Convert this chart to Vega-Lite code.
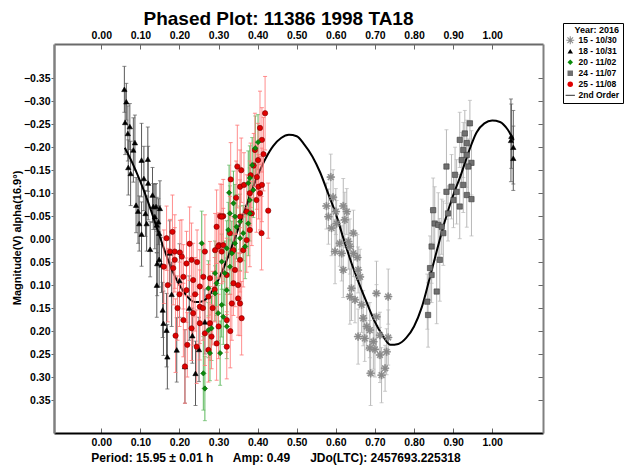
{
  "$schema": "https://vega.github.io/schema/vega-lite/v6.json",
  "width": 489,
  "height": 389,
  "autosize": {"type": "none"},
  "padding": {"left": 54, "top": 44, "right": 86, "bottom": 36},
  "background": "white",
  "config": {"font": "Liberation Sans", "view": {"stroke": null}},
  "title": {"text": "Phased Plot: 11386 1998 TA18", "font": "Liberation Sans", "fontSize": 19, "fontWeight": "bold", "color": "black", "anchor": "middle", "dx": -20, "offset": -6},
  "datasets": {
    "pts": [
      {"s":"15 - 10/30","p":0.587,"m":-0.135,"e":0.05},{"s":"15 - 10/30","p":0.593,"m":-0.091,"e":0.06},{"s":"15 - 10/30","p":0.576,"m":-0.072,"e":0.05},{"s":"15 - 10/30","p":0.581,"m":-0.049,"e":0.06},{"s":"15 - 10/30","p":0.619,"m":-0.072,"e":0.06},{"s":"15 - 10/30","p":0.628,"m":-0.060,"e":0.05},{"s":"15 - 10/30","p":0.589,"m":-0.024,"e":0.06},{"s":"15 - 10/30","p":0.602,"m":-0.034,"e":0.05},{"s":"15 - 10/30","p":0.632,"m":0.005,"e":0.06},{"s":"15 - 10/30","p":0.610,"m":0.009,"e":0.05},{"s":"15 - 10/30","p":0.636,"m":0.016,"e":0.06},{"s":"15 - 10/30","p":0.598,"m":0.027,"e":0.07},{"s":"15 - 10/30","p":0.615,"m":0.031,"e":0.06},{"s":"15 - 10/30","p":0.645,"m":0.031,"e":0.05},{"s":"15 - 10/30","p":0.619,"m":0.067,"e":0.06},{"s":"15 - 10/30","p":0.657,"m":0.067,"e":0.05},{"s":"15 - 10/30","p":0.662,"m":0.082,"e":0.06},{"s":"15 - 10/30","p":0.640,"m":0.107,"e":0.07},{"s":"15 - 10/30","p":0.636,"m":0.125,"e":0.06},{"s":"15 - 10/30","p":0.649,"m":0.132,"e":0.05},{"s":"15 - 10/30","p":0.666,"m":0.143,"e":0.06},{"s":"15 - 10/30","p":0.704,"m":0.118,"e":0.07},{"s":"15 - 10/30","p":0.734,"m":0.125,"e":0.06},{"s":"15 - 10/30","p":0.670,"m":0.172,"e":0.06},{"s":"15 - 10/30","p":0.704,"m":0.169,"e":0.07},{"s":"15 - 10/30","p":0.679,"m":0.190,"e":0.05},{"s":"15 - 10/30","p":0.687,"m":0.198,"e":0.06},{"s":"15 - 10/30","p":0.657,"m":0.212,"e":0.06},{"s":"15 - 10/30","p":0.674,"m":0.216,"e":0.05},{"s":"15 - 10/30","p":0.696,"m":0.223,"e":0.06},{"s":"15 - 10/30","p":0.713,"m":0.209,"e":0.05},{"s":"15 - 10/30","p":0.734,"m":0.214,"e":0.06},{"s":"15 - 10/30","p":0.713,"m":0.252,"e":0.06},{"s":"15 - 10/30","p":0.730,"m":0.245,"e":0.05},{"s":"15 - 10/30","p":0.689,"m":0.292,"e":0.07},{"s":"15 - 10/30","p":0.717,"m":0.296,"e":0.06},{"s":"15 - 10/30","p":0.726,"m":0.281,"e":0.05},{"s":"15 - 10/30","p":0.687,"m":0.237,"e":0.06},{"s":"15 - 10/30","p":0.623,"m":-0.042,"e":0.06},{"s":"15 - 10/30","p":0.645,"m":-0.013,"e":0.05},{"s":"15 - 10/30","p":0.600,"m":-0.060,"e":0.05},{"s":"15 - 10/30","p":0.655,"m":0.040,"e":0.05},{"s":"15 - 10/30","p":0.700,"m":0.240,"e":0.06},
      {"s":"24 - 11/07","p":0.943,"m":-0.252,"e":0.05},{"s":"24 - 11/07","p":0.917,"m":-0.216,"e":0.06},{"s":"24 - 11/07","p":0.935,"m":-0.209,"e":0.05},{"s":"24 - 11/07","p":0.926,"m":-0.194,"e":0.06},{"s":"24 - 11/07","p":0.935,"m":-0.183,"e":0.07},{"s":"24 - 11/07","p":0.883,"m":-0.158,"e":0.08},{"s":"24 - 11/07","p":0.922,"m":-0.172,"e":0.06},{"s":"24 - 11/07","p":0.947,"m":-0.166,"e":0.07},{"s":"24 - 11/07","p":0.939,"m":-0.158,"e":0.06},{"s":"24 - 11/07","p":0.896,"m":-0.114,"e":0.07},{"s":"24 - 11/07","p":0.883,"m":-0.103,"e":0.06},{"s":"24 - 11/07","p":0.909,"m":-0.103,"e":0.07},{"s":"24 - 11/07","p":0.926,"m":-0.118,"e":0.06},{"s":"24 - 11/07","p":0.935,"m":-0.096,"e":0.07},{"s":"24 - 11/07","p":0.947,"m":-0.087,"e":0.08},{"s":"24 - 11/07","p":0.917,"m":-0.071,"e":0.07},{"s":"24 - 11/07","p":0.901,"m":-0.085,"e":0.06},{"s":"24 - 11/07","p":0.849,"m":-0.063,"e":0.07},{"s":"24 - 11/07","p":0.853,"m":-0.034,"e":0.08},{"s":"24 - 11/07","p":0.862,"m":-0.031,"e":0.07},{"s":"24 - 11/07","p":0.871,"m":-0.027,"e":0.06},{"s":"24 - 11/07","p":0.875,"m":-0.013,"e":0.07},{"s":"24 - 11/07","p":0.845,"m":0.016,"e":0.08},{"s":"24 - 11/07","p":0.866,"m":0.045,"e":0.09},{"s":"24 - 11/07","p":0.841,"m":0.063,"e":0.07},{"s":"24 - 11/07","p":0.845,"m":0.078,"e":0.06},{"s":"24 - 11/07","p":0.858,"m":0.114,"e":0.07},{"s":"24 - 11/07","p":0.834,"m":0.136,"e":0.06},{"s":"24 - 11/07","p":0.836,"m":0.165,"e":0.07},{"s":"24 - 11/07","p":0.887,"m":-0.056,"e":0.06},{"s":"24 - 11/07","p":0.905,"m":-0.140,"e":0.06},{"s":"24 - 11/07","p":0.930,"m":-0.230,"e":0.05},
      {"s":"18 - 10/31","p":0.059,"m":-0.326,"e":0.05},{"s":"18 - 10/31","p":0.064,"m":-0.299,"e":0.04},{"s":"18 - 10/31","p":0.061,"m":-0.254,"e":0.07},{"s":"18 - 10/31","p":0.068,"m":-0.230,"e":0.06},{"s":"18 - 10/31","p":0.073,"m":-0.245,"e":0.05},{"s":"18 - 10/31","p":0.069,"m":-0.156,"e":0.06},{"s":"18 - 10/31","p":0.075,"m":-0.143,"e":0.07},{"s":"18 - 10/31","p":0.082,"m":-0.194,"e":0.07},{"s":"18 - 10/31","p":0.086,"m":-0.210,"e":0.06},{"s":"18 - 10/31","p":0.089,"m":-0.074,"e":0.06},{"s":"18 - 10/31","p":0.094,"m":-0.061,"e":0.07},{"s":"18 - 10/31","p":0.097,"m":-0.034,"e":0.06},{"s":"18 - 10/31","p":0.103,"m":-0.011,"e":0.07},{"s":"18 - 10/31","p":0.103,"m":-0.172,"e":0.08},{"s":"18 - 10/31","p":0.109,"m":-0.132,"e":0.07},{"s":"18 - 10/31","p":0.113,"m":-0.056,"e":0.05},{"s":"18 - 10/31","p":0.116,"m":-0.034,"e":0.06},{"s":"18 - 10/31","p":0.119,"m":-0.174,"e":0.07},{"s":"18 - 10/31","p":0.120,"m":-0.122,"e":0.08},{"s":"18 - 10/31","p":0.125,"m":0.022,"e":0.06},{"s":"18 - 10/31","p":0.131,"m":-0.096,"e":0.06},{"s":"18 - 10/31","p":0.133,"m":-0.071,"e":0.05},{"s":"18 - 10/31","p":0.137,"m":-0.049,"e":0.07},{"s":"18 - 10/31","p":0.142,"m":-0.031,"e":0.06},{"s":"18 - 10/31","p":0.146,"m":-0.038,"e":0.05},{"s":"18 - 10/31","p":0.148,"m":-0.013,"e":0.06},{"s":"18 - 10/31","p":0.140,"m":-0.071,"e":0.05},{"s":"18 - 10/31","p":0.148,"m":0.044,"e":0.06},{"s":"18 - 10/31","p":0.150,"m":-0.067,"e":0.06},{"s":"18 - 10/31","p":0.143,"m":0.053,"e":0.07},{"s":"18 - 10/31","p":0.154,"m":0.056,"e":0.06},{"s":"18 - 10/31","p":0.142,"m":0.100,"e":0.07},{"s":"18 - 10/31","p":0.157,"m":0.154,"e":0.06},{"s":"18 - 10/31","p":0.159,"m":0.183,"e":0.07},{"s":"18 - 10/31","p":0.167,"m":0.198,"e":0.08},{"s":"18 - 10/31","p":0.169,"m":0.256,"e":0.07},{"s":"18 - 10/31","p":0.193,"m":0.241,"e":0.07},{"s":"18 - 10/31","p":0.214,"m":0.277,"e":0.08},{"s":"18 - 10/31","p":0.241,"m":0.292,"e":0.07},{"s":"18 - 10/31","p":0.180,"m":0.120,"e":0.07},{"s":"18 - 10/31","p":0.200,"m":0.090,"e":0.08},{"s":"18 - 10/31","p":0.225,"m":0.150,"e":0.07},{"s":"18 - 10/31","p":0.233,"m":0.210,"e":0.06},{"s":"18 - 10/31","p":0.250,"m":0.240,"e":0.07},{"s":"18 - 10/31","p":0.265,"m":0.180,"e":0.07},{"s":"18 - 10/31","p":0.175,"m":0.030,"e":0.07},{"s":"18 - 10/31","p":1.049,"m":-0.224,"e":0.07},{"s":"18 - 10/31","p":1.054,"m":-0.200,"e":0.08},{"s":"18 - 10/31","p":1.054,"m":-0.176,"e":0.07},{"s":"18 - 10/31","p":1.048,"m":-0.215,"e":0.09},
      {"s":"25 - 11/08","p":0.167,"m":-0.002,"e":0.07},{"s":"25 - 11/08","p":0.182,"m":-0.016,"e":0.08},{"s":"25 - 11/08","p":0.176,"m":0.027,"e":0.07},{"s":"25 - 11/08","p":0.188,"m":0.027,"e":0.08},{"s":"25 - 11/08","p":0.201,"m":0.029,"e":0.07},{"s":"25 - 11/08","p":0.265,"m":0.027,"e":0.08},{"s":"25 - 11/08","p":0.295,"m":-0.027,"e":0.08},{"s":"25 - 11/08","p":0.304,"m":-0.050,"e":0.07},{"s":"25 - 11/08","p":0.312,"m":-0.050,"e":0.08},{"s":"25 - 11/08","p":0.301,"m":0.013,"e":0.07},{"s":"25 - 11/08","p":0.291,"m":0.024,"e":0.08},{"s":"25 - 11/08","p":0.331,"m":-0.130,"e":0.08},{"s":"25 - 11/08","p":0.348,"m":-0.158,"e":0.09},{"s":"25 - 11/08","p":0.355,"m":-0.114,"e":0.08},{"s":"25 - 11/08","p":0.188,"m":0.045,"e":0.07},{"s":"25 - 11/08","p":0.184,"m":0.063,"e":0.08},{"s":"25 - 11/08","p":0.206,"m":0.038,"e":0.08},{"s":"25 - 11/08","p":0.218,"m":0.053,"e":0.07},{"s":"25 - 11/08","p":0.231,"m":0.045,"e":0.08},{"s":"25 - 11/08","p":0.210,"m":0.082,"e":0.07},{"s":"25 - 11/08","p":0.235,"m":0.089,"e":0.08},{"s":"25 - 11/08","p":0.218,"m":0.111,"e":0.07},{"s":"25 - 11/08","p":0.252,"m":0.103,"e":0.08},{"s":"25 - 11/08","p":0.261,"m":0.082,"e":0.07},{"s":"25 - 11/08","p":0.278,"m":0.085,"e":0.08},{"s":"25 - 11/08","p":0.274,"m":0.125,"e":0.07},{"s":"25 - 11/08","p":0.252,"m":0.147,"e":0.08},{"s":"25 - 11/08","p":0.235,"m":0.161,"e":0.07},{"s":"25 - 11/08","p":0.210,"m":0.176,"e":0.08},{"s":"25 - 11/08","p":0.231,"m":0.194,"e":0.07},{"s":"25 - 11/08","p":0.252,"m":0.183,"e":0.08},{"s":"25 - 11/08","p":0.265,"m":0.205,"e":0.07},{"s":"25 - 11/08","p":0.278,"m":0.183,"e":0.08},{"s":"25 - 11/08","p":0.282,"m":0.212,"e":0.07},{"s":"25 - 11/08","p":0.295,"m":0.227,"e":0.08},{"s":"25 - 11/08","p":0.321,"m":0.234,"e":0.07},{"s":"25 - 11/08","p":0.214,"m":0.277,"e":0.08},{"s":"25 - 11/08","p":0.274,"m":0.241,"e":0.07},{"s":"25 - 11/08","p":0.244,"m":0.234,"e":0.08},{"s":"25 - 11/08","p":0.299,"m":0.016,"e":0.07},{"s":"25 - 11/08","p":0.312,"m":0.013,"e":0.08},{"s":"25 - 11/08","p":0.308,"m":0.027,"e":0.07},{"s":"25 - 11/08","p":0.321,"m":0.078,"e":0.08},{"s":"25 - 11/08","p":0.338,"m":0.096,"e":0.07},{"s":"25 - 11/08","p":0.350,"m":0.129,"e":0.08},{"s":"25 - 11/08","p":0.355,"m":0.140,"e":0.07},{"s":"25 - 11/08","p":0.359,"m":0.172,"e":0.08},{"s":"25 - 11/08","p":0.321,"m":0.176,"e":0.07},{"s":"25 - 11/08","p":0.334,"m":0.140,"e":0.08},{"s":"25 - 11/08","p":0.350,"m":0.100,"e":0.07},{"s":"25 - 11/08","p":0.342,"m":0.067,"e":0.08},{"s":"25 - 11/08","p":0.355,"m":0.045,"e":0.07},{"s":"25 - 11/08","p":0.363,"m":0.024,"e":0.08},{"s":"25 - 11/08","p":0.372,"m":0.002,"e":0.07},{"s":"25 - 11/08","p":0.380,"m":-0.020,"e":0.08},{"s":"25 - 11/08","p":0.385,"m":-0.056,"e":0.07},{"s":"25 - 11/08","p":0.372,"m":-0.060,"e":0.08},{"s":"25 - 11/08","p":0.397,"m":-0.085,"e":0.07},{"s":"25 - 11/08","p":0.406,"m":-0.100,"e":0.08},{"s":"25 - 11/08","p":0.402,"m":-0.114,"e":0.07},{"s":"25 - 11/08","p":0.410,"m":-0.013,"e":0.08},{"s":"25 - 11/08","p":0.427,"m":-0.062,"e":0.06},{"s":"25 - 11/08","p":0.308,"m":-0.049,"e":0.07},{"s":"25 - 11/08","p":0.329,"m":-0.013,"e":0.08},{"s":"25 - 11/08","p":0.338,"m":0.024,"e":0.07},{"s":"25 - 11/08","p":0.345,"m":-0.090,"e":0.08},{"s":"25 - 11/08","p":0.355,"m":-0.049,"e":0.08},{"s":"25 - 11/08","p":0.380,"m":-0.100,"e":0.07},{"s":"25 - 11/08","p":0.419,"m":-0.274,"e":0.08},{"s":"25 - 11/08","p":0.401,"m":-0.172,"e":0.08},{"s":"25 - 11/08","p":0.411,"m":-0.216,"e":0.07},{"s":"25 - 11/08","p":0.393,"m":-0.194,"e":0.08},{"s":"25 - 11/08","p":0.382,"m":-0.139,"e":0.07},{"s":"25 - 11/08","p":0.411,"m":-0.118,"e":0.08},{"s":"25 - 11/08","p":0.358,"m":-0.150,"e":0.07},{"s":"25 - 11/08","p":0.406,"m":-0.242,"e":0.08},{"s":"25 - 11/08","p":0.365,"m":-0.118,"e":0.07},{"s":"25 - 11/08","p":0.390,"m":-0.160,"e":0.07},{"s":"25 - 11/08","p":0.415,"m":-0.185,"e":0.08},{"s":"25 - 11/08","p":0.398,"m":-0.135,"e":0.07},{"s":"25 - 11/08","p":0.170,"m":0.100,"e":0.08},{"s":"25 - 11/08","p":0.195,"m":0.150,"e":0.07},{"s":"25 - 11/08","p":0.190,"m":0.210,"e":0.08},{"s":"25 - 11/08","p":0.220,"m":0.230,"e":0.07},{"s":"25 - 11/08","p":0.240,"m":0.120,"e":0.08},{"s":"25 - 11/08","p":0.260,"m":0.150,"e":0.07},{"s":"25 - 11/08","p":0.285,"m":0.150,"e":0.08},{"s":"25 - 11/08","p":0.245,"m":0.050,"e":0.07},{"s":"25 - 11/08","p":0.226,"m":0.010,"e":0.08},{"s":"25 - 11/08","p":0.200,"m":0.120,"e":0.07},{"s":"25 - 11/08","p":0.160,"m":0.060,"e":0.08},{"s":"25 - 11/08","p":0.300,"m":0.190,"e":0.07},{"s":"25 - 11/08","p":0.330,"m":0.200,"e":0.08},{"s":"25 - 11/08","p":0.290,"m":0.110,"e":0.07},
      {"s":"20 - 11/02","p":0.327,"m":-0.101,"e":0.06},{"s":"20 - 11/02","p":0.338,"m":-0.078,"e":0.07},{"s":"20 - 11/02","p":0.329,"m":-0.056,"e":0.06},{"s":"20 - 11/02","p":0.342,"m":-0.049,"e":0.07},{"s":"20 - 11/02","p":0.355,"m":-0.038,"e":0.06},{"s":"20 - 11/02","p":0.346,"m":-0.027,"e":0.07},{"s":"20 - 11/02","p":0.325,"m":-0.020,"e":0.06},{"s":"20 - 11/02","p":0.355,"m":-0.002,"e":0.07},{"s":"20 - 11/02","p":0.342,"m":0.009,"e":0.06},{"s":"20 - 11/02","p":0.334,"m":0.031,"e":0.07},{"s":"20 - 11/02","p":0.321,"m":0.020,"e":0.06},{"s":"20 - 11/02","p":0.368,"m":0.016,"e":0.07},{"s":"20 - 11/02","p":0.363,"m":-0.013,"e":0.06},{"s":"20 - 11/02","p":0.376,"m":-0.034,"e":0.07},{"s":"20 - 11/02","p":0.380,"m":-0.056,"e":0.06},{"s":"20 - 11/02","p":0.380,"m":-0.085,"e":0.07},{"s":"20 - 11/02","p":0.389,"m":-0.107,"e":0.06},{"s":"20 - 11/02","p":0.376,"m":-0.122,"e":0.07},{"s":"20 - 11/02","p":0.329,"m":0.060,"e":0.06},{"s":"20 - 11/02","p":0.316,"m":0.074,"e":0.07},{"s":"20 - 11/02","p":0.308,"m":0.049,"e":0.06},{"s":"20 - 11/02","p":0.295,"m":0.096,"e":0.07},{"s":"20 - 11/02","p":0.291,"m":0.118,"e":0.06},{"s":"20 - 11/02","p":0.308,"m":0.143,"e":0.07},{"s":"20 - 11/02","p":0.312,"m":0.169,"e":0.06},{"s":"20 - 11/02","p":0.321,"m":0.190,"e":0.07},{"s":"20 - 11/02","p":0.299,"m":0.161,"e":0.06},{"s":"20 - 11/02","p":0.282,"m":0.194,"e":0.07},{"s":"20 - 11/02","p":0.274,"m":0.198,"e":0.06},{"s":"20 - 11/02","p":0.304,"m":0.248,"e":0.07},{"s":"20 - 11/02","p":0.261,"m":0.292,"e":0.08},{"s":"20 - 11/02","p":0.265,"m":0.325,"e":0.07},{"s":"20 - 11/02","p":0.278,"m":0.248,"e":0.06},{"s":"20 - 11/02","p":0.291,"m":0.074,"e":0.07},{"s":"20 - 11/02","p":0.274,"m":0.107,"e":0.06},{"s":"20 - 11/02","p":0.321,"m":0.111,"e":0.07},{"s":"20 - 11/02","p":0.394,"m":-0.198,"e":0.07},{"s":"20 - 11/02","p":0.386,"m":-0.161,"e":0.06},{"s":"20 - 11/02","p":0.380,"m":-0.133,"e":0.07},{"s":"20 - 11/02","p":0.401,"m":-0.211,"e":0.06},{"s":"20 - 11/02","p":0.257,"m":0.009,"e":0.07}
    ],
    "fit": [
      {"p":0.06,"m":-0.199},{"p":0.08,"m":-0.165},{"p":0.10,"m":-0.125},{"p":0.12,"m":-0.080},{"p":0.14,"m":-0.030},{"p":0.16,"m":0.020},{"p":0.18,"m":0.065},{"p":0.20,"m":0.100},{"p":0.22,"m":0.125},{"p":0.24,"m":0.137},{"p":0.26,"m":0.135},{"p":0.28,"m":0.118},{"p":0.30,"m":0.088},{"p":0.32,"m":0.048},{"p":0.34,"m":0.002},{"p":0.36,"m":-0.046},{"p":0.38,"m":-0.094},{"p":0.40,"m":-0.138},{"p":0.42,"m":-0.175},{"p":0.44,"m":-0.203},{"p":0.46,"m":-0.220},{"p":0.48,"m":-0.227},{"p":0.50,"m":-0.224},{"p":0.52,"m":-0.205},{"p":0.54,"m":-0.180},{"p":0.56,"m":-0.145},{"p":0.58,"m":-0.100},{"p":0.60,"m":-0.055},{"p":0.62,"m":0.000},{"p":0.64,"m":0.052},{"p":0.66,"m":0.098},{"p":0.68,"m":0.140},{"p":0.70,"m":0.180},{"p":0.72,"m":0.210},{"p":0.74,"m":0.230},{"p":0.76,"m":0.228},{"p":0.78,"m":0.215},{"p":0.80,"m":0.190},{"p":0.82,"m":0.148},{"p":0.84,"m":0.085},{"p":0.86,"m":0.020},{"p":0.88,"m":-0.042},{"p":0.90,"m":-0.095},{"p":0.92,"m":-0.140},{"p":0.94,"m":-0.190},{"p":0.96,"m":-0.232},{"p":0.98,"m":-0.252},{"p":1.00,"m":-0.258},{"p":1.02,"m":-0.255},{"p":1.04,"m":-0.238},{"p":1.055,"m":-0.215}
    ]
  },
  "resolve": {"axis": {"x": "independent", "y": "independent"}},
  "layer": [
    {
      "data": {"name": "pts"},
      "transform": [{"filter": {"field": "s", "oneOf": ["15 - 10/30", "24 - 11/07"]}}],
      "mark": {"type": "errorbar", "ticks": {"size": 4}, "color": "#b8b8b8"},
      "encoding": {
        "x": {"field": "p", "type": "quantitative", "scale": {"domain": [-0.121, 1.13], "nice": false, "zero": false}, "axis": null},
        "y": {"field": "m", "type": "quantitative", "scale": {"domain": [-0.4246, 0.4218], "reverse": true, "nice": false, "zero": false}, "axis": null},
        "yError": {"field": "e"}
      }
    },
    {
      "data": {"name": "pts"},
      "transform": [{"filter": {"field": "s", "equal": "18 - 10/31"}}],
      "mark": {"type": "errorbar", "ticks": {"size": 4}, "color": "#5a5a5a"},
      "encoding": {
        "x": {"field": "p", "type": "quantitative", "axis": null},
        "y": {"field": "m", "type": "quantitative", "axis": null},
        "yError": {"field": "e"}
      }
    },
    {
      "data": {"name": "pts"},
      "transform": [{"filter": {"field": "s", "equal": "20 - 11/02"}}],
      "mark": {"type": "errorbar", "ticks": {"size": 4}, "color": "#5cb85c"},
      "encoding": {
        "x": {"field": "p", "type": "quantitative", "axis": null},
        "y": {"field": "m", "type": "quantitative", "axis": null},
        "yError": {"field": "e"}
      }
    },
    {
      "data": {"name": "fit"},
      "mark": {"type": "line", "color": "black", "strokeWidth": 2, "interpolate": "monotone"},
      "encoding": {
        "x": {"field": "p", "type": "quantitative", "axis": {"orient": "top", "title": null, "values": [0, 0.1, 0.2, 0.3, 0.4, 0.5, 0.6, 0.7, 0.8, 0.9, 1.0], "format": ".2f", "grid": false, "tickSize": -5, "labelPadding": 9, "tickColor": "#666", "domainColor": "#6a6a6a", "domainWidth": 2, "labelFont": "Liberation Sans", "labelFontWeight": "bold", "labelFontSize": 10.5, "labelColor": "black"}},
        "y": {"field": "m", "type": "quantitative", "axis": {"orient": "right", "title": null, "values": [-0.35, -0.3, -0.25, -0.2, -0.15, -0.1, -0.05, 0, 0.05, 0.1, 0.15, 0.2, 0.25, 0.3, 0.35], "labels": false, "grid": false, "tickSize": -5, "tickColor": "#666", "domainColor": "#808080", "domainWidth": 2}}
      }
    },
    {
      "data": {"name": "pts"},
      "transform": [{"filter": {"field": "s", "equal": "25 - 11/08"}}],
      "mark": {"type": "errorbar", "ticks": {"size": 4}, "color": "#ff7a7a", "opacity": 0.85},
      "encoding": {
        "x": {"field": "p", "type": "quantitative", "axis": null},
        "y": {"field": "m", "type": "quantitative", "axis": null},
        "yError": {"field": "e"}
      }
    },
    {
      "data": {"name": "pts"},
      "mark": {"type": "point", "filled": true, "size": 28, "opacity": 1, "strokeWidth": 0.6},
      "encoding": {
        "x": {"field": "p", "type": "quantitative", "axis": {"orient": "bottom", "title": "Period: 15.95 ± 0.01 h\u00a0\u00a0\u00a0\u00a0\u00a0 Amp: 0.49\u00a0\u00a0\u00a0\u00a0\u00a0 JDo(LTC): 2457693.225318", "titleFont": "Liberation Sans", "titleFontSize": 12, "titleFontWeight": "bold", "titleColor": "black", "titleX": 221.5, "titleY": 28, "titleBaseline": "alphabetic", "titleAlign": "center", "values": [0, 0.1, 0.2, 0.3, 0.4, 0.5, 0.6, 0.7, 0.8, 0.9, 1.0], "format": ".2f", "grid": false, "tickSize": -5, "labelPadding": 9, "tickColor": "#666", "domainColor": "black", "domainWidth": 2, "labelFont": "Liberation Sans", "labelFontWeight": "bold", "labelFontSize": 10.5, "labelColor": "black"}},
        "y": {"field": "m", "type": "quantitative", "axis": {"orient": "left", "title": "Magnitude(V) alpha(16.9°)", "titleFont": "Liberation Sans", "titleFontSize": 11, "titleFontWeight": "bold", "titleColor": "black", "titleAngle": -90, "titleX": -36.5, "titleY": 193.5, "titleBaseline": "middle", "titleAlign": "center", "values": [-0.35, -0.3, -0.25, -0.2, -0.15, -0.1, -0.05, 0, 0.05, 0.1, 0.15, 0.2, 0.25, 0.3, 0.35], "format": ".2f", "grid": false, "tickSize": 3, "labelPadding": 1, "tickColor": "#666", "domainColor": "#808080", "domainWidth": 2.5, "labelFont": "Liberation Sans", "labelFontWeight": "bold", "labelFontSize": 10.5, "labelColor": "black"}},
        "color": {"field": "s", "type": "nominal",
          "scale": {"domain": ["15 - 10/30", "18 - 10/31", "20 - 11/02", "24 - 11/07", "25 - 11/08", "2nd Order"], "range": ["#8a8a8a", "#000000", "#0a8a0a", "#707070", "#e00000", "#000000"]},
          "legend": {"orient": "none", "legendX": 509, "legendY": -21, "title": "Year: 2016", "titleFont": "Liberation Sans", "titleFontSize": 9, "titleFontWeight": "bold", "titleColor": "black", "titleAnchor": "end", "titlePadding": 1, "labelFont": "Liberation Sans", "labelFontSize": 8.5, "labelFontWeight": "bold", "labelColor": "black", "labelOffset": 4, "symbolSize": 30, "rowPadding": 2, "padding": 3, "fillColor": "white", "strokeColor": "black", "symbolStrokeWidth": 0}},
        "stroke": {"field": "s", "type": "nominal",
          "scale": {"domain": ["15 - 10/30", "18 - 10/31", "20 - 11/02", "24 - 11/07", "25 - 11/08", "2nd Order"], "range": ["#8a8a8a", "#000000", "#075a07", "#3a3a3a", "#7a0000", "#000000"]},
          "legend": null},
        "shape": {"field": "s", "type": "nominal",
          "scale": {"domain": ["15 - 10/30", "18 - 10/31", "20 - 11/02", "24 - 11/07", "25 - 11/08", "2nd Order"], "range": ["M-1.45,-0.2L1.45,-0.2L1.45,0.2L-1.45,0.2Z M-0.2,-1.45L0.2,-1.45L0.2,1.45L-0.2,1.45Z M-0.88,-1.16L1.16,0.88L0.88,1.16L-1.16,-0.88Z M-0.88,1.16L-1.16,0.88L0.88,-1.16L1.16,-0.88Z", "triangle-up", "diamond", "square", "circle", "M-1.7,-0.15L1.7,-0.15L1.7,0.15L-1.7,0.15Z"]},
          "legend": {"orient": "none", "legendX": 509, "legendY": -21, "title": "Year: 2016", "titleFont": "Liberation Sans", "titleFontSize": 9, "titleFontWeight": "bold", "titleColor": "black", "titleAnchor": "end", "titlePadding": 1, "labelFont": "Liberation Sans", "labelFontSize": 8.5, "labelFontWeight": "bold", "labelColor": "black", "labelOffset": 4, "symbolSize": 30, "rowPadding": 2, "padding": 3, "fillColor": "white", "strokeColor": "black", "symbolStrokeWidth": 0}}
      }
    }
  ]
}
